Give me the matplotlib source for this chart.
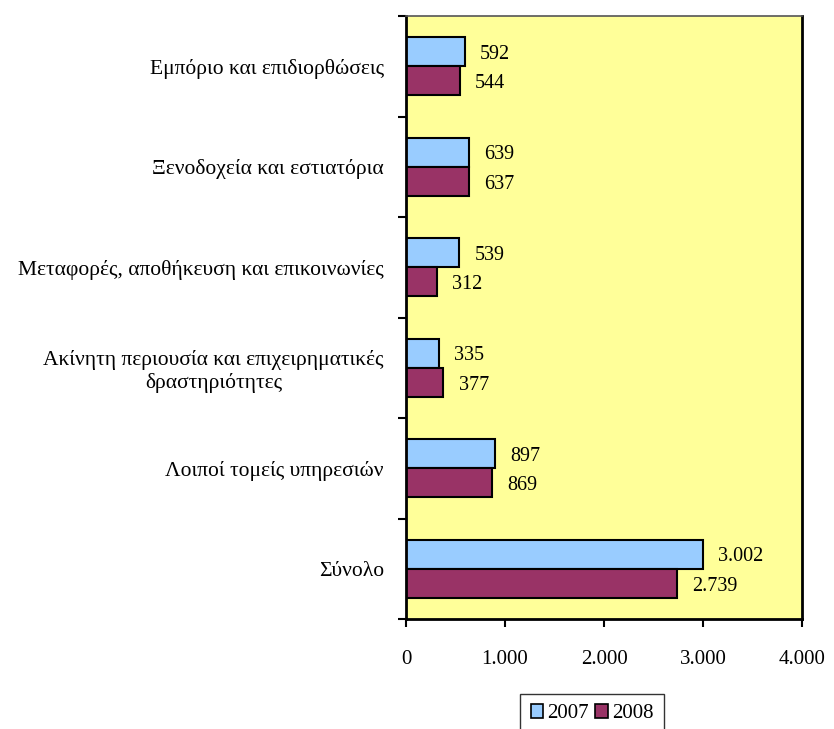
#!/usr/bin/env python3

import matplotlib
matplotlib.use("Agg")
import matplotlib.pyplot as plt
from matplotlib.patches import Patch
import numpy as np

categories = [
    "Εμπόριο και επιδιορθώσεις",
    "Ξενοδοχεία και εστιατόρια",
    "Μεταφορές, αποθήκευση και επικοινωνίες",
    "Ακίνητη περιουσία και επιχειρηματικές\nδραστηριότητες",
    "Λοιποί τομείς υπηρεσιών",
    "Σύνολο",
]
values_2007 = [592, 639, 539, 335, 897, 3002]
values_2008 = [544, 637, 312, 377, 869, 2739]
years = ["2007", "2008"]
x_ticks = [0, 1000, 2000, 3000, 4000]

colors = ["#99CCFF", "#993366"]
plt.rcParams["font.family"] = ["Liberation Serif", "DejaVu Serif"]


def fmt(v):
    return f"{v:,}".replace(",", ".")


fig = plt.figure(figsize=(8.34, 7.29), dpi=100)
ax = fig.add_axes([406 / 834, 1 - 619 / 729, 396 / 834, 603 / 729])
ax.set_facecolor("#FFFF99")

n = len(categories)
centers = np.arange(n)[::-1] + 0.5
h = 0.29

bars1 = ax.barh(centers + h / 2, values_2007, height=h, color=colors[0],
                edgecolor="black", linewidth=1.5)
bars2 = ax.barh(centers - h / 2, values_2008, height=h, color=colors[1],
                edgecolor="black", linewidth=1.5)

for bars, vals in ((bars1, values_2007), (bars2, values_2008)):
    for b, v in zip(bars, vals):
        ax.annotate(fmt(v), (v, b.get_y() + b.get_height() / 2),
                    xytext=(11, -2), textcoords="offset points",
                    va="center", ha="left", fontsize=14.5)

ax.set_xlim(0, 4000)
ax.set_ylim(0, n)
ax.set_xticks(x_ticks)
ax.set_xticklabels([fmt(t) for t in x_ticks], fontsize=15)
ax.tick_params(axis="x", length=6, width=1.5, pad=16, direction="out")

ax.set_yticks(centers)
ax.set_yticklabels(categories, fontsize=15.5, multialignment="center")
ax.set_yticks(np.arange(n + 1), minor=True)
ax.tick_params(axis="y", which="major", length=0, pad=16)
ax.tick_params(axis="y", which="minor", length=6, width=1.5, direction="out")

ax.spines["left"].set_linewidth(2)
ax.spines["bottom"].set_linewidth(2)
ax.spines["right"].set_linewidth(2)
ax.spines["top"].set_linewidth(1.2)
ax.spines["top"].set_color("#555555")

handles = [Patch(facecolor=c, edgecolor="black", linewidth=1.2) for c in colors]
fig.legend(handles, years, loc="upper center", bbox_to_anchor=(592 / 834, 1 - 694 / 729),
           ncol=2, frameon=True, fancybox=False, edgecolor="black", fontsize=15,
           handlelength=0.6, handleheight=0.6, handletextpad=0.2, columnspacing=0.3,
           borderpad=0.5, borderaxespad=0)

fig.savefig("out.png", dpi=100)
